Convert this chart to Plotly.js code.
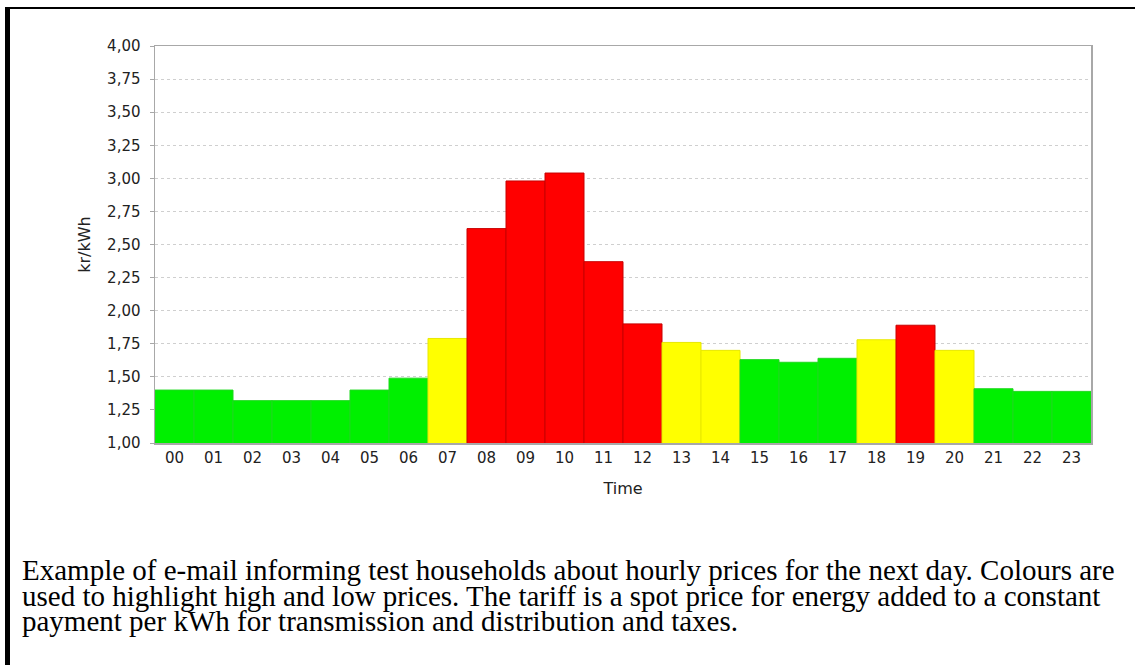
<!DOCTYPE html>
<html>
<head>
<meta charset="utf-8">
<script src="https://cdn.plot.ly/plotly-3.0.1.min.js"></script>
<style>
  html, body { margin: 0; padding: 0; background: #fff; }
  #chart { width: 1135px; height: 665px; }
</style>
</head>
<body>
<div id="chart"></div>
<script>
// ---- data ----
const hours = ["00","01","02","03","04","05","06","07","08","09","10","11",
               "12","13","14","15","16","17","18","19","20","21","22","23"];
const prices = [1.40, 1.40, 1.32, 1.32, 1.32, 1.40, 1.49, 1.79, 2.62, 2.98, 3.04, 2.37,
                1.90, 1.76, 1.70, 1.63, 1.61, 1.64, 1.78, 1.89, 1.70, 1.41, 1.39, 1.39];
const levels = ["low","low","low","low","low","low","low","mid","high","high","high","high",
                "high","mid","mid","low","low","low","mid","high","mid","low","low","low"];
const yTickVals = [1.00, 1.25, 1.50, 1.75, 2.00, 2.25, 2.50, 2.75, 3.00, 3.25, 3.50, 3.75, 4.00];
const xTitle = "Time";
const yTitle = "kr/kWh";
const captionLines = [
  "Example of e-mail informing test households about hourly prices for the next day. Colours are",
  "used to highlight high and low prices. The tariff is a spot price for energy added to a constant",
  "payment per kWh for transmission and distribution and taxes."
];

// ---- styles ----
const fillColor = { low: "#00f000", mid: "#ffff00", high: "#ff0000" };
const edgeColor = { low: "#1fd81f", mid: "#e8e800", high: "#c80000" };

// plot area in pixels (for placing outside elements in paper coords)
const PL = 155, PR = 1091, PT = 46, PB = 443;
const px2x = px => (px - PL) / (PR - PL);
const py2y = py => (PB - py) / (PB - PT);

const trace = {
  type: "bar",
  x: hours,
  y: prices,
  base: 0,
  marker: {
    color: levels.map(l => fillColor[l]),
    line: { color: levels.map(l => edgeColor[l]), width: 1 }
  },
  hoverinfo: "x+y"
};

const tickFont = { family: "DejaVu Sans, sans-serif", size: 15, color: "#222222" };

const capSize = 29;
const captionBaselines = [579, 605, 630];
const annotations = captionLines.map((t, i) => ({
  text: t,
  xref: "paper", yref: "paper",
  x: px2x(20), y: py2y(captionBaselines[i] - 0.3 * capSize),
  xanchor: "left", yanchor: "middle",
  showarrow: false, align: "left",
  font: { family: "Liberation Serif, Times New Roman, serif", size: capSize, color: "#000000" }
}));

const shapes = [
  { type: "rect", xref: "paper", yref: "paper", layer: "above",
    x0: px2x(5), x1: px2x(10), y0: py2y(665), y1: py2y(7),
    fillcolor: "#000000", line: { width: 0 } },
  { type: "rect", xref: "paper", yref: "paper", layer: "above",
    x0: px2x(5), x1: px2x(1135), y0: py2y(9), y1: py2y(7),
    fillcolor: "#000000", line: { width: 0 } }
];

const layout = {
  width: 1135, height: 665,
  margin: { l: PL, r: 1135 - PR, t: PT, b: 665 - PB, pad: 0 },
  paper_bgcolor: "#ffffff",
  plot_bgcolor: "#ffffff",
  separators: ", ",
  bargap: 0,
  showlegend: false,
  xaxis: {
    type: "category",
    tickfont: tickFont,
    ticks: "",
    showgrid: false,
    showline: true, mirror: true, linecolor: "#a8a8a8", linewidth: 1.5,
    title: { text: xTitle, font: { family: "DejaVu Sans, sans-serif", size: 16, color: "#222222" }, standoff: 17 },
    automargin: false
  },
  yaxis: {
    range: [1, 4],
    tickvals: yTickVals,
    tickformat: ".2f",
    tickfont: tickFont,
    ticks: "outside", ticklen: 4, tickcolor: "#a8a8a8", tickwidth: 1,
    ticklabelstandoff: 6,
    showgrid: true, gridcolor: "#cfcfcf", gridwidth: 1, griddash: "dot",
    zeroline: false,
    showline: true, mirror: true, linecolor: "#a8a8a8", linewidth: 1.5,
    title: { text: yTitle, font: { family: "DejaVu Sans, sans-serif", size: 16, color: "#222222" }, standoff: 12 },
    automargin: false
  },
  annotations: annotations,
  shapes: shapes
};

Plotly.newPlot("chart", [trace], layout, { displayModeBar: false, staticPlot: true });
</script>
</body>
</html>
